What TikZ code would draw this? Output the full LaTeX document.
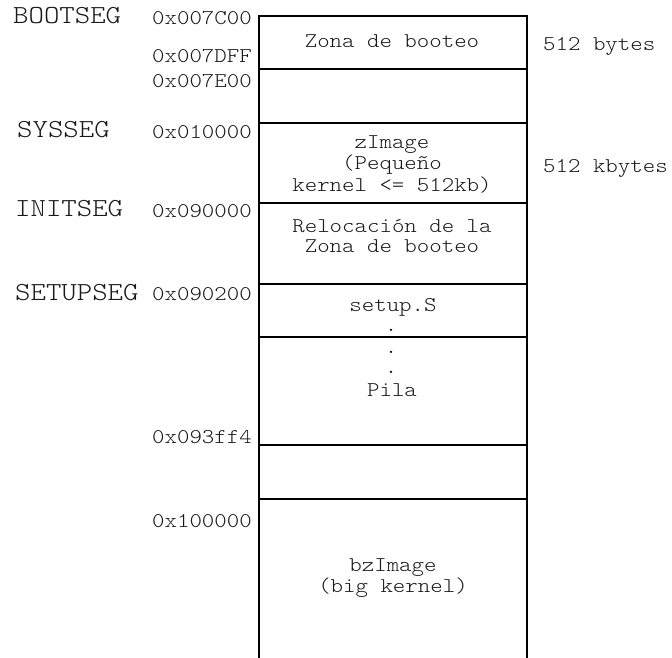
\documentclass[tikz,border=0pt]{standalone}
\usepackage{fontspec}
\newfontfamily\monofam[FakeStretch=1.13]{lmmonolt10-regular.otf}
\begin{document}
\begin{tikzpicture}[x=1pt,y=-1pt,
  txt/.style={inner sep=0pt, font=\monofam\fontsize{21}{21}\selectfont, text=black!90},
  seg/.style={inner sep=0pt, anchor=base west, font=\monofam\fontsize{26}{26}\selectfont, text=black!90},
  addr/.style={txt, anchor=base east},
  mid/.style={txt, anchor=base, align=center},
  side/.style={txt, anchor=base west},
  wall/.style={line width=2.8pt, black}]
\useasboundingbox (0,0) rectangle (672,658);
% memory column
\coordinate (tl) at (259,16);
\coordinate (tr) at (527,16);
\coordinate (bl) at (259,658);
\coordinate (br) at (527,658);
\draw[wall] (bl) -- (tl) -- (tr) -- (br);
\foreach \yy in {69,123,203,284,337,445,499}
  \draw[wall] (259,\yy) -- (527,\yy);
% segment names
\node[seg] (bootseg) at (13,24) {BOOTSEG};
\node[seg] (sysseg) at (17,138) {SYSSEG};
\node[seg] (initseg) at (15,216) {INITSEG};
\node[seg] (setupseg) at (15,300) {SETUPSEG};
% addresses
\node[addr] (a1) at (252,25) {0x007C00};
\node[addr] (a2) at (252,63) {0x007DFF};
\node[addr] (a3) at (252,88) {0x007E00};
\node[addr] (a4) at (252,139) {0x010000};
\node[addr] (a5) at (252,217) {0x090000};
\node[addr] (a6) at (252,300) {0x090200};
\node[addr] (a7) at (252,443) {0x093ff4};
\node[addr] (a8) at (252,527) {0x100000};
% contents
\node[mid] (boot) at (392,48) {Zona de booteo};
\node[mid] (zimg) at (392,149) {zImage};
\node[mid] (zimg2) at (392,170) {(Pequeño};
\node[mid] (zimg3) at (392,191) {kernel <= 512kb)};
\node[mid] (reloc) at (392,232) {Relocación de la};
\node[mid] (reloc2) at (392,252) {Zona de booteo};
\node[mid] (setup) at (393,311) {setup.S};
\node[mid] (d1) at (391,331) {.};
\node[mid] (d2) at (391,353) {.};
\node[mid] (d3) at (391,373) {.};
\node[mid] (pila) at (392,396) {Pila};
\node[mid] (bz) at (393,571) {bzImage};
\node[mid] (bz2) at (393,592) {(big kernel)};
% sizes
\node[side] (s1) at (543,51) {512 bytes};
\node[side] (s2) at (543,172) {512 kbytes};
\end{tikzpicture}
\end{document}
